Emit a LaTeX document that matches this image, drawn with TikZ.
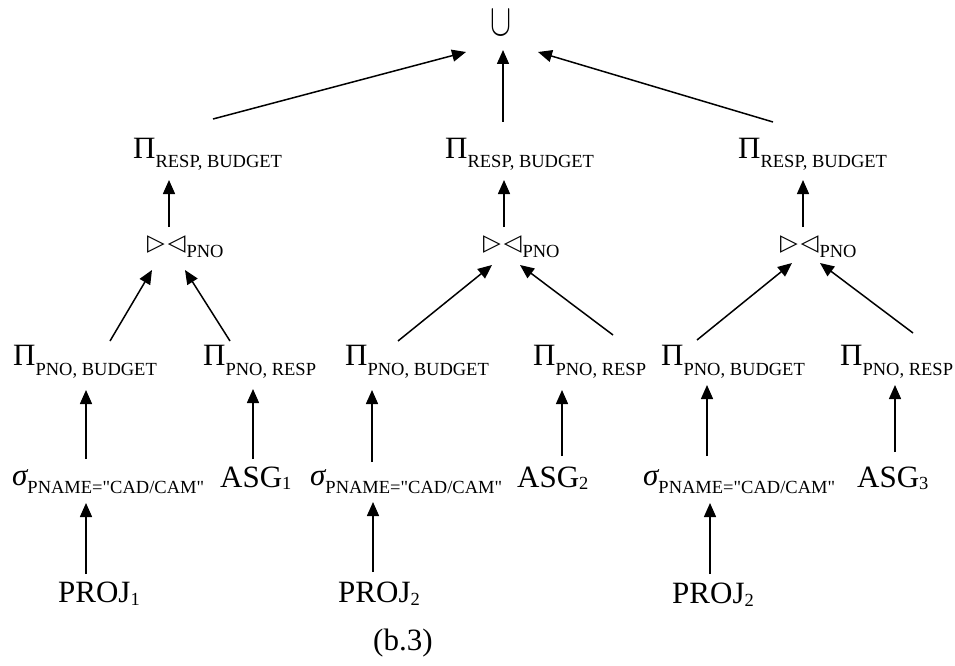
\documentclass[tikz,border=0pt]{standalone}
\usepackage{fontspec}
\usepackage{graphicx}
\setmainfont{Liberation Serif}
\newfontfamily\rawserif{Liberation Serif}
\newfontfamily\dvs{DejaVu Sans}
\usetikzlibrary{arrows.meta,calc}
\newcommand\lsub[2][9pt]{\raisebox{-#1}{\fontsize{18.5}{20}\selectfont #2}}
\newcommand\joinsym{\raisebox{7pt}{\dvs\fontsize{23}{24}\selectfont ▷\kern3pt◁}\kern1pt\lsub[0pt]{PNO}}
\newcommand\selcond{{\itshape σ}\lsub[8pt]{\rawserif PNAME="CAD/CAM"}}
\tikzset{
  lbl/.style={inner sep=0pt, anchor=base west, font=\fontsize{31}{36}\selectfont},
  arr/.style={line width=1.5pt, -{Triangle[length=14pt,width=12pt]}}
}
\begin{document}
\begin{tikzpicture}[x=1pt,y=-1pt]
\useasboundingbox (0,0) rectangle (955,666);
% union
\node[inner sep=0pt] (u) at (501,23) {\resizebox{21pt}{25pt}{$\cup$}};
% top projections
\node[lbl] (pr1) at (133,158) {Π\lsub{RESP, BUDGET}};
\node[lbl] (pr2) at (445,158) {Π\lsub{RESP, BUDGET}};
\node[lbl] (pr3) at (738,158) {Π\lsub{RESP, BUDGET}};
% joins
\node[lbl] (j1) at (147,257) {\joinsym};
\node[lbl] (j2) at (483,257) {\joinsym};
\node[lbl] (j3) at (780,257) {\joinsym};
% PNO projections
\node[lbl] (pb1) at (13,365) {Π\lsub[10pt]{PNO, BUDGET}};
\node[lbl] (prs1) at (203,365) {Π\lsub[10pt]{PNO, RESP}};
\node[lbl] (pb2) at (345,365) {Π\lsub[10pt]{PNO, BUDGET}};
\node[lbl] (prs2) at (533,365) {Π\lsub[10pt]{PNO, RESP}};
\node[lbl] (pb3) at (661,365) {Π\lsub[10pt]{PNO, BUDGET}};
\node[lbl] (prs3) at (840,365) {Π\lsub[10pt]{PNO, RESP}};
% selections
\node[lbl] (s1) at (12,485) {\selcond};
\node[lbl] (s2) at (310,485) {\selcond};
\node[lbl] (s3) at (643,485) {\selcond};
% fragments
\node[lbl] (a1) at (220,487) {ASG\lsub[2pt]{1}};
\node[lbl] (a2) at (517,487) {ASG\lsub[2pt]{2}};
\node[lbl] (a3) at (857,487) {ASG\lsub[2pt]{3}};
\node[lbl] (pj1) at (58,602) {PROJ\lsub[3pt]{1}};
\node[lbl] (pj2) at (338,602) {PROJ\lsub[3pt]{2}};
\node[lbl] (pj3) at (672,603) {PROJ\lsub[3pt]{2}};
% caption
\node[lbl] (cap) at (373,650) {(b.3)};
% arrows to union
\draw[arr] ($(pr1.base west)+(80,-39)$) -- ($(u.center)+(-35,29)$);
\draw[arr] ($(pr2.base west)+(58,-36)$) -- ($(u.center)+(2,27)$);
\draw[arr] ($(pr3.base west)+(35,-36)$) -- ($(u.center)+(37,29)$);
% joins to top projections
\draw[arr] ($(j1.base west)+(22,-30)$) -- ($(pr1.base west)+(36,22)$);
\draw[arr] ($(j2.base west)+(21,-30)$) -- ($(pr2.base west)+(59,22)$);
\draw[arr] ($(j3.base west)+(23,-30)$) -- ($(pr3.base west)+(65,22)$);
% PNO projections to joins
\draw[arr] ($(pb1.base west)+(97,-24)$) -- ($(j1.base west)+(5,13)$);
\draw[arr] ($(prs1.base west)+(27,-24)$) -- ($(j1.base west)+(38,13)$);
\draw[arr] ($(pb2.base west)+(53,-24)$) -- ($(j2.base west)+(9,8)$);
\draw[arr] ($(prs2.base west)+(80,-30)$) -- ($(j2.base west)+(37,8)$);
\draw[arr] ($(pb3.base west)+(36,-25)$) -- ($(j3.base west)+(12,6)$);
\draw[arr] ($(prs3.base west)+(73,-32)$) -- ($(j3.base west)+(40,6)$);
% selections / ASG to PNO projections
\draw[arr] ($(s1.base west)+(74,-26)$) -- ($(pb1.base west)+(73,25)$);
\draw[arr] ($(a1.base west)+(33,-28)$) -- ($(prs1.base west)+(50,24)$);
\draw[arr] ($(s2.base west)+(62,-23)$) -- ($(pb2.base west)+(27,25)$);
\draw[arr] ($(a2.base west)+(45,-31)$) -- ($(prs2.base west)+(29,25)$);
\draw[arr] ($(s3.base west)+(64,-29)$) -- ($(pb3.base west)+(46,20)$);
\draw[arr] ($(a3.base west)+(38,-35)$) -- ($(prs3.base west)+(55,20)$);
% PROJ to selections
\draw[arr] ($(pj1.base west)+(28,-28)$) -- ($(s1.base west)+(74,18)$);
\draw[arr] ($(pj2.base west)+(35,-30)$) -- ($(s2.base west)+(63,17)$);
\draw[arr] ($(pj3.base west)+(38,-29)$) -- ($(s3.base west)+(67,18)$);
\end{tikzpicture}
\end{document}
